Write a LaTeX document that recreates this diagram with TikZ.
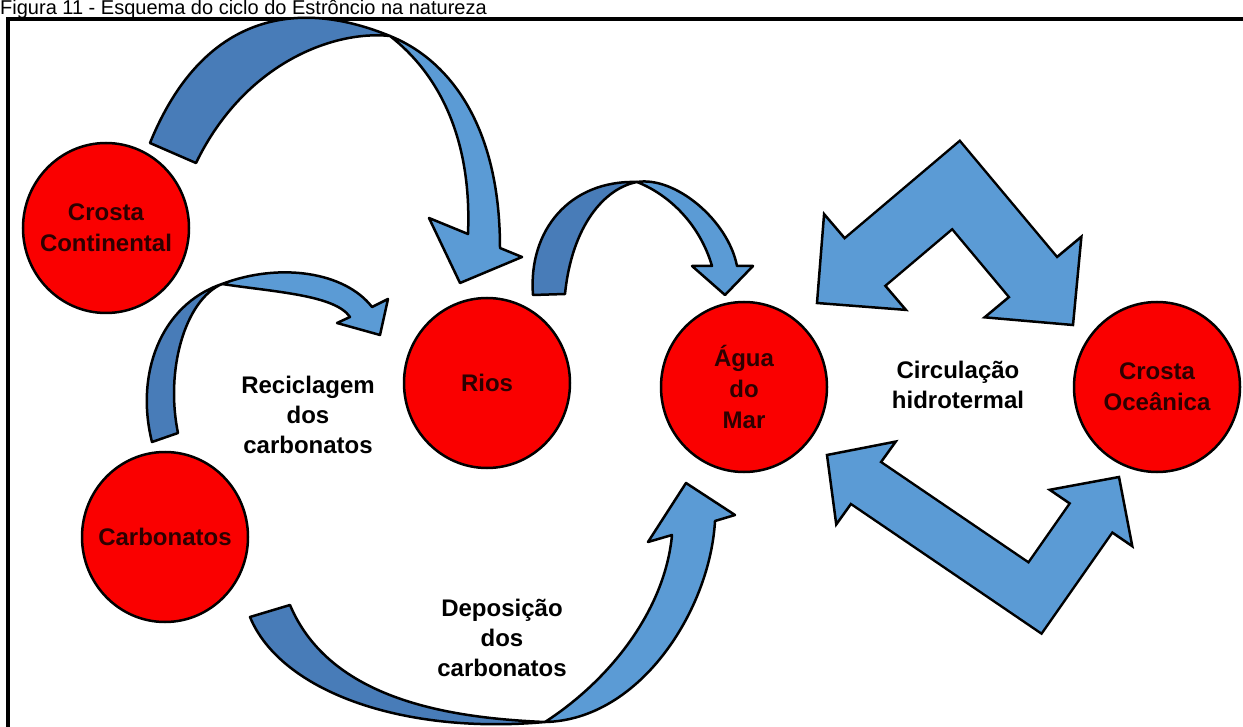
\documentclass[tikz,border=0pt]{standalone}
\usepackage{fontspec}
\setmainfont{Liberation Sans}
\usetikzlibrary{shapes.geometric,calc}
\definecolor{lightarr}{RGB}{91,155,213}
\definecolor{darkarr}{RGB}{72,124,184}
\definecolor{blobred}{RGB}{250,0,0}
\definecolor{blobtext}{RGB}{45,0,0}

% head of a block arrow: base, tip, half width
\newcommand{\blockhead}[3]{%
  \filldraw[arrhd] ($(#1)!#3!90:(#2)$) -- (#2) -- ($(#1)!#3!-90:(#2)$) -- cycle;}

\begin{document}
\begin{tikzpicture}[
  x=1pt, y=-1pt,
  blob/.style={ellipse, draw=black, line width=2.5pt, fill=blobred, minimum width=166pt, minimum height=170pt,
    inner sep=-30pt, align=center, text=blobtext, font=\fontsize{24}{31}\selectfont\bfseries},
  lbl/.style={align=center, font=\fontsize{24}{30}\selectfont\bfseries},
  band/.style={line width=#1, line cap=butt, line join=miter},
  arrhd/.style={fill=lightarr, draw=black, line width=2.5pt, line join=miter},
  lightpart/.style={fill=lightarr, draw=black, line width=2.5pt, line join=round},
  darkpart/.style={fill=darkarr, draw=black, line width=2.5pt, line join=round}
]
\useasboundingbox (0,0) rectangle (1243,727);

% frame and caption
\node[anchor=base west, inner sep=0, font=\fontsize{20}{22}\selectfont] (title) at (0,15)
  {Figura 11 - Esquema do ciclo do Estrôncio na natureza};
\draw[line width=4pt] (8,727) -- (8,19.5) -- (1243,19.5);

% Crosta Continental -> Rios
\coordinate (a1o) at (150,143); \coordinate (a1i) at (196,163);
\coordinate (a1x) at (390,36);  \coordinate (a1t) at (460,283);
\filldraw[lightpart] (a1x) .. controls (445,58) and (500,120) .. (500,248) -- (522,257) -- (a1t)
  -- (429,218) -- (468,234) .. controls (472,140) and (440,75) .. (a1x) -- cycle;
\filldraw[darkpart] (a1i) -- (a1o) .. controls (200,20) and (290,-5) .. (a1x)
  .. controls (335,30) and (245,62) .. (a1i) -- cycle;

% Carbonatos -> Rios
\coordinate (a2o) at (152,442); \coordinate (a2i) at (178,433);
\coordinate (a2x) at (222,284); \coordinate (a2t) at (380,335);
\filldraw[lightpart] (a2x) .. controls (280,262) and (345,272) .. (372,307) -- (388,299) -- (a2t)
  -- (337,323) -- (350,317) .. controls (335,295) and (275,292) .. (a2x) -- cycle;
\filldraw[darkpart] (a2i) -- (a2o) .. controls (135,375) and (160,305) .. (a2x)
  .. controls (185,300) and (165,370) .. (a2i) -- cycle;

% Rios -> Agua do Mar
\coordinate (a3o) at (533,295); \coordinate (a3i) at (565,294);
\coordinate (a3x) at (637,182); \coordinate (a3t) at (725,295);
\filldraw[lightpart] (a3x) .. controls (675,176) and (728,220) .. (737,266) -- (753,266) -- (a3t)
  -- (692,266) -- (712,266) .. controls (700,225) and (670,195) .. (a3x) -- cycle;
\filldraw[darkpart] (a3i) -- (a3o) .. controls (528,230) and (570,180) .. (a3x)
  .. controls (605,188) and (572,225) .. (a3i) -- cycle;

% Carbonatos -> Agua do Mar
\coordinate (a4o) at (250,617); \coordinate (a4i) at (290,605);
\coordinate (a4x) at (545,722); \coordinate (a4t) at (686,483);
\filldraw[lightpart] (a4x) .. controls (640,720) and (710,610) .. (715,521) -- (735,515) -- (a4t)
  -- (648,542) -- (672,535) .. controls (665,610) and (610,680) .. (a4x) -- cycle;
\filldraw[darkpart] (a4i) -- (a4o) .. controls (280,690) and (400,735) .. (a4x)
  .. controls (450,718) and (330,700) .. (a4i) -- cycle;

% Agua do Mar <-> Crosta Oceanica (upper)
\coordinate (h1a) at (865,262); \coordinate (h1v) at (956,185); \coordinate (h1b) at (1033,277);
\coordinate (h1ta) at (817,303); \coordinate (h1tb) at (1073,325);
\draw[band=65pt] (h1a) -- (h1v) -- (h1b);
\blockhead{h1a}{h1ta}{63pt}
\blockhead{h1b}{h1tb}{63pt}
\draw[band=60pt, lightarr, shorten <=-3pt, shorten >=-3pt] (h1a) -- (h1v) -- (h1b);

% Crosta Oceanica -> Agua do Mar (lower)
\coordinate (h2a) at (866,483); \coordinate (h2v) at (1035,598); \coordinate (h2b) at (1091,518);
\coordinate (h2ta) at (827,455); \coordinate (h2tb) at (1119,477);
\draw[band=54pt] (h2a) -- (h2v) -- (h2b);
\blockhead{h2a}{h2ta}{51pt}
\blockhead{h2b}{h2tb}{50pt}
\draw[band=49pt, lightarr, shorten <=-3pt, shorten >=-3pt] (h2a) -- (h2v) -- (h2b);

% reservoirs
\node[blob] (crcont) at (106,228) {Crosta\\Continental};
\node[blob] (rios) at (487,383) {Rios};
\node[blob] (agua) at (744,387) {Água\\do\\Mar};
\node[blob] (croce) at (1157,387) {Crosta\\Oceânica};
\node[blob] (carb) at (165,537) {Carbonatos};

% process labels
\node[lbl] (recic) at (308,415) {Reciclagem\\dos\\carbonatos};
\node[lbl] (depos) at (502,638) {Deposição\\dos\\carbonatos};
\node[lbl] (circ) at (958,385) {Circulação\\hidrotermal};
\end{tikzpicture}
\end{document}
